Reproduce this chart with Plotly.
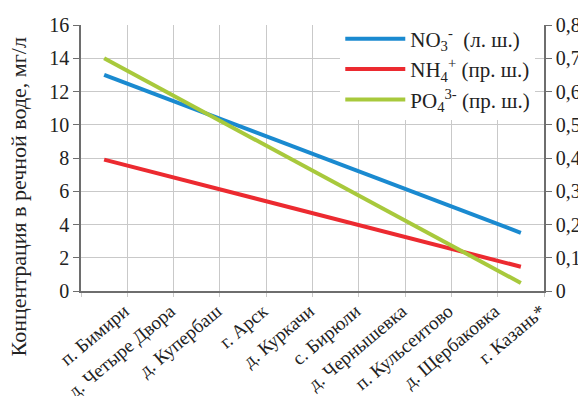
import plotly.graph_objects as go

categories = ["п. Бимири", "д. Четыре Двора", "д. Купербаш", "г. Арск", "д. Куркачи",
              "с. Бирюли", "д. Чернышевка", "п. Кульсеитово", "д. Щербаковка", "г. Казань*"]
no3 = [13.0, 11.94, 10.89, 9.83, 8.78, 7.72, 6.67, 5.61, 4.56, 3.5]
nh4 = [0.395, 0.359, 0.323, 0.288, 0.252, 0.216, 0.180, 0.145, 0.109, 0.073]
po4 = [0.700, 0.625, 0.550, 0.475, 0.400, 0.324, 0.249, 0.174, 0.099, 0.024]
left_ticks = [0, 2, 4, 6, 8, 10, 12, 14, 16]
right_tickvals = [0, 0.1, 0.2, 0.3, 0.4, 0.5, 0.6, 0.7, 0.8]
right_ticktext = ["0", "0,1", "0,2", "0,3", "0,4", "0,5", "0,6", "0,7", "0,8"]
y_title = "Концентрация в речной воде, мг/л"

FONT = "Liberation Serif, Times New Roman, serif"
GRID = "#c9c9c9"
AXIS = "#6e6e6e"
TXT = "#222222"

fig = go.Figure()
fig.add_trace(go.Scatter(x=categories, y=no3, mode="lines", yaxis="y",
                         name="NO<sub>3</sub><sup>-</sup>  (л. ш.)",
                         line=dict(color="#1a8ad0", width=4)))
fig.add_trace(go.Scatter(x=categories, y=nh4, mode="lines", yaxis="y2",
                         name="NH<sub>4</sub><sup>+</sup> (пр. ш.)",
                         line=dict(color="#ec2a30", width=4)))
fig.add_trace(go.Scatter(x=categories, y=po4, mode="lines", yaxis="y2",
                         name="PO<sub>4</sub><sup>3-</sup> (пр. ш.)",
                         line=dict(color="#a8c93c", width=4)))

fig.update_layout(
    width=586, height=396,
    margin=dict(l=73, r=50, t=16, b=113),
    paper_bgcolor="white", plot_bgcolor="white",
    font=dict(family=FONT, color=TXT),
    showlegend=True,
    legend=dict(x=0.56, y=1.02, xanchor="left", yanchor="top",
                bgcolor="white", borderwidth=0,
                font=dict(family=FONT, size=21, color=TXT),
                itemwidth=60),
    xaxis=dict(type="category", tickson="boundaries", showgrid=True, gridcolor=GRID,
               gridwidth=1, showline=True, linecolor=AXIS, linewidth=1.5,
               ticks="outside", ticklen=4, tickcolor=GRID, tickangle=-40,
               ticklabelshift=20, automargin=False,
               tickfont=dict(family=FONT, size=19, color=TXT),
               range=[-0.5, 9.5]),
    yaxis=dict(range=[0, 16], tickvals=left_ticks, showgrid=True, gridcolor=GRID,
               gridwidth=1, showline=True, linecolor=AXIS, linewidth=1.5,
               ticks="outside", ticklen=6, tickcolor=AXIS, zeroline=False,
               automargin=False,
               tickfont=dict(family=FONT, size=20, color=TXT)),
    yaxis2=dict(range=[0, 0.8], overlaying="y", side="right", tickvals=right_tickvals,
                ticktext=right_ticktext, showgrid=False, showline=True, linecolor=AXIS,
                linewidth=1.5, ticks="outside", ticklen=6, tickcolor=AXIS, zeroline=False,
                automargin=False,
                tickfont=dict(family=FONT, size=20, color=TXT)),
    annotations=[dict(text=y_title, xref="paper", yref="paper", x=-0.136, y=0.352,
                      xanchor="center", yanchor="middle", textangle=-90, showarrow=False,
                      font=dict(family=FONT, size=22, color=TXT))],
)

fig.write_html("out.html")
